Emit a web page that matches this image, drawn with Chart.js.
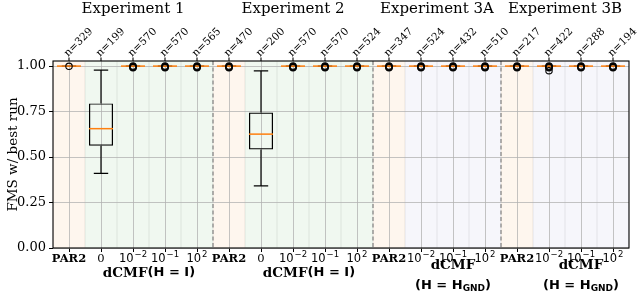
<!DOCTYPE html>
<html>
<head>
<meta charset="utf-8">
<script src="https://cdn.jsdelivr.net/npm/chart.js@4.4.0/dist/chart.umd.min.js"></script>
<style>
  html, body { margin: 0; padding: 0; background: #fff; }
  #wrap { width: 640px; height: 297px; position: relative; }
</style>
</head>
<body>
<div id="wrap"><canvas id="myChart"></canvas></div>
<script>
// ---- data ----
const categories = ['PAR2','0','10^-2','10^-1','10^2', 'PAR2','0','10^-2','10^-1','10^2', 'PAR2','10^-2','10^-1','10^2', 'PAR2','10^-2','10^-1','10^2'];
const kinds = ['par','id','id','id','id', 'par','id','id','id','id', 'par','gnd','gnd','gnd', 'par','gnd','gnd','gnd'];
const counts = [329,199,570,570,565, 470,200,570,570,524, 347,524,432,510, 217,422,288,194];

const whiskLow  = [1,0.41,1,1,1, 1,0.342,1,1,1, 1,1,1,1, 1,1,1,1];
const q1        = [1,0.562,1,1,1, 1,0.542,1,1,1, 1,1,1,1, 1,1,1,1];
const medians   = [1,0.656,1,1,1, 1,0.626,1,1,1, 1,1,1,1, 1,1,1,1];
const q3        = [1,0.795,1,1,1, 1,0.745,1,1,1, 1,1,1,1, 1,1,1,1];
const whiskHigh = [1,0.978,1,1,1, 1,0.974,1,1,1, 1,1,1,1, 1,1,1,1];
const many = [1,0.997,0.994,0.991];
const fliers = [
  [0.999], [], many, many, many,
  many, [], many, many, many,
  many, many, many, many,
  many, many.concat([0.975]), many, many
];

const groupTitles = ['Experiment 1','Experiment 2','Experiment 3A','Experiment 3B'];
const groupSizes = [5,5,4,4];
const methodNames = ['dCMF(H = I)','dCMF(H = I)','dCMF\n(H = H_GND)','dCMF\n(H = H_GND)'];
const yTicks = [0, 0.25, 0.5, 0.75, 1.0];

const bandColors = { par: 'rgb(254,246,238)', id: 'rgb(240,248,240)', gnd: 'rgb(246,246,251)' };
const serif = '"DejaVu Serif", serif';
const sans = '"DejaVu Sans", sans-serif';

// one point dataset per flier "layer" so each category keeps its own index
let maxFliers = Math.max(...fliers.map(f => f.length));
let flierSets = [];
for (let k = 0; k < maxFliers; k++) {
  flierSets.push({
    type: 'line',
    label: 'fliers' + k,
    data: fliers.map(f => (f[k] === undefined ? null : f[k])),
    showLine: false,
    pointStyle: 'circle',
    pointRadius: 3.2,
    pointBorderWidth: 1.1,
    pointBorderColor: '#000',
    pointBackgroundColor: 'rgba(0,0,0,0)',
    order: 1
  });
}

// draws a tick label like "10^-2" with a raised exponent, or plain text
let drawTickLabel = (ctx, label, cx, y) => {
  let m = label.match(/^(\d+)\^(.+)$/);
  if (!m) {
    ctx.font = (label === 'PAR2' ? 'bold ' : '') + '11.5px ' + serif;
    ctx.textAlign = 'center';
    ctx.fillText(label, cx, y);
    return;
  }
  let base = m[1], sup = m[2].replace('-', '\u2212');
  ctx.font = '11.5px ' + sans;
  let wb = ctx.measureText(base).width;
  ctx.font = '8.5px ' + sans;
  let ws = ctx.measureText(sup).width;
  let x = cx - (wb + ws + 1) / 2;
  ctx.textAlign = 'left';
  ctx.font = '11.5px ' + sans;
  ctx.fillText(base, x, y);
  ctx.font = '8.5px ' + sans;
  ctx.fillText(sup, x + wb + 1, y - 4);
  ctx.textAlign = 'center';
};

let boxPlugin = {
  id: 'boxExtras',
  beforeDraw(chart) {
    let ctx = chart.ctx, xs = chart.scales.x, area = chart.chartArea;
    let step = xs.getPixelForValue(1) - xs.getPixelForValue(0);
    ctx.save();
    kinds.forEach((k, i) => {
      let cx = xs.getPixelForValue(i);
      ctx.fillStyle = bandColors[k];
      ctx.fillRect(cx - step / 2, area.top, step, area.bottom - area.top);
      ctx.strokeStyle = 'rgba(0,0,0,0.04)';
      ctx.lineWidth = 1;
      ctx.strokeRect(cx - step / 2 + 0.5, area.top, step - 1, area.bottom - area.top);
    });
    ctx.restore();
  },
  afterDatasetDraw(chart, args) {
    if (args.index !== 0) return;
    let ctx = chart.ctx, xs = chart.scales.x, ys = chart.scales.y;
    let step = xs.getPixelForValue(1) - xs.getPixelForValue(0);
    let boxW = step * 0.75;
    ctx.save();
    categories.forEach((c, i) => {
      let cx = xs.getPixelForValue(i);
      ctx.strokeStyle = '#000';
      ctx.lineWidth = 1.2;
      ctx.beginPath();
      ctx.moveTo(cx, ys.getPixelForValue(q3[i]));
      ctx.lineTo(cx, ys.getPixelForValue(whiskHigh[i]));
      ctx.moveTo(cx, ys.getPixelForValue(q1[i]));
      ctx.lineTo(cx, ys.getPixelForValue(whiskLow[i]));
      ctx.moveTo(cx - boxW * 0.3, ys.getPixelForValue(whiskHigh[i]));
      ctx.lineTo(cx + boxW * 0.3, ys.getPixelForValue(whiskHigh[i]));
      ctx.moveTo(cx - boxW * 0.3, ys.getPixelForValue(whiskLow[i]));
      ctx.lineTo(cx + boxW * 0.3, ys.getPixelForValue(whiskLow[i]));
      ctx.stroke();
      ctx.strokeStyle = '#ff7f0e';
      ctx.lineWidth = 1.5;
      ctx.beginPath();
      ctx.moveTo(cx - boxW / 2, ys.getPixelForValue(medians[i]));
      ctx.lineTo(cx + boxW / 2, ys.getPixelForValue(medians[i]));
      ctx.stroke();
    });
    ctx.restore();
  },
  afterDraw(chart) {
    let ctx = chart.ctx, xs = chart.scales.x, area = chart.chartArea;
    let step = xs.getPixelForValue(1) - xs.getPixelForValue(0);
    ctx.save();
    // group dividers
    ctx.strokeStyle = '#808080';
    ctx.lineWidth = 1.2;
    ctx.setLineDash([4, 2.5]);
    let start = 0;
    groupSizes.slice(0, -1).forEach(n => {
      start += n;
      let x = xs.getPixelForValue(start) - step / 2;
      ctx.beginPath();
      ctx.moveTo(x, area.top);
      ctx.lineTo(x, area.bottom);
      ctx.stroke();
    });
    ctx.setLineDash([]);
    // frame
    ctx.strokeStyle = '#000';
    ctx.lineWidth = 1.1;
    ctx.strokeRect(area.left, area.top, area.right - area.left, area.bottom - area.top);
    ctx.fillStyle = '#000';
    // bottom tick labels
    ctx.textBaseline = 'middle';
    categories.forEach((c, i) => drawTickLabel(ctx, c, xs.getPixelForValue(i), 259));
    // top ticks and n= labels
    ctx.font = '10.5px ' + serif;
    ctx.textAlign = 'left';
    ctx.textBaseline = 'alphabetic';
    counts.forEach((n, i) => {
      let cx = xs.getPixelForValue(i);
      ctx.beginPath();
      ctx.moveTo(cx, area.top);
      ctx.lineTo(cx, area.top - 3.5);
      ctx.stroke();
      ctx.save();
      ctx.translate(cx - 1, area.top - 4);
      ctx.rotate(-Math.PI / 4);
      ctx.fillText('n=' + n, 0, 0);
      ctx.restore();
    });
    // group titles and method labels
    ctx.textAlign = 'center';
    ctx.textBaseline = 'middle';
    start = 0;
    groupSizes.forEach((n, g) => {
      let x0 = xs.getPixelForValue(start) - step / 2;
      let x1 = xs.getPixelForValue(start + n - 1) + step / 2;
      ctx.font = '15px ' + serif;
      ctx.fillText(groupTitles[g], (x0 + x1) / 2, 9);
      let mx = (x0 + step + x1) / 2;
      let lines = methodNames[g].split('\n');
      if (lines.length === 1) {
        drawMixed(ctx, lines[0], mx, 273);
      } else {
        ctx.font = 'bold 13.5px ' + serif;
        ctx.textAlign = 'center';
        ctx.fillText(lines[0], mx, 265);
        drawMixed(ctx, lines[1], mx, 286);
      }
      start += n;
    });
    ctx.restore();
  }
};

// "dCMF" in bold serif, the math part "(H = ...)" in bold sans, "_X" as subscript
let drawMixed = (ctx, text, cx, y) => {
  let k = text.indexOf('(');
  let head = text.slice(0, k), math = text.slice(k);
  let parts = [];
  if (head) parts.push({ t: head, f: 'bold 13.5px ' + serif, dy: 0 });
  let m = math.match(/^(.*)_([A-Z]+)(\).*)$/);
  if (m) {
    parts.push({ t: m[1], f: 'bold 13px ' + sans, dy: 0 });
    parts.push({ t: m[2], f: 'bold 9px ' + sans, dy: 3 });
    parts.push({ t: m[3], f: 'bold 13px ' + sans, dy: 0 });
  } else {
    parts.push({ t: math, f: 'bold 13px ' + sans, dy: 0 });
  }
  let total = 0;
  parts.forEach(p => { ctx.font = p.f; p.w = ctx.measureText(p.t).width; total += p.w; });
  let x = cx - total / 2;
  ctx.textAlign = 'left';
  parts.forEach(p => { ctx.font = p.f; ctx.fillText(p.t, x, y + p.dy); x += p.w; });
  ctx.textAlign = 'center';
};

let ctx = document.getElementById('myChart').getContext('2d');
let chart1 = new Chart(ctx, {
  type: 'bar',
  data: {
    labels: categories,
    datasets: [{
      type: 'bar',
      label: 'box',
      data: categories.map((c, i) => [q1[i], q3[i]]),
      backgroundColor: 'rgba(0,0,0,0)',
      borderColor: '#000',
      borderWidth: 1.2,
      borderSkipped: false,
      barPercentage: 0.75,
      categoryPercentage: 1,
      order: 2
    }, ...flierSets]
  },
  options: {
    responsive: true,
    maintainAspectRatio: false,
    animation: false,
    layout: { padding: { top: 61, right: 11, left: 0, bottom: 0 } },
    plugins: { legend: { display: false }, tooltip: { enabled: false } },
    scales: {
      x: {
        type: 'category',
        offset: true,
        afterFit: (s) => { s.height = 49; },
        grid: { offset: false, color: 'rgba(176,176,176,0.75)', lineWidth: 1, tickColor: '#000', tickLength: 4 },
        border: { display: false },
        ticks: { display: false, autoSkip: false }
      },
      y: {
        min: 0,
        max: 1.028,
        afterFit: (s) => { s.width = 53; },
        afterBuildTicks: (s) => { s.ticks = yTicks.map(v => ({ value: v })); },
        grid: { color: 'rgba(176,176,176,0.75)', lineWidth: 1, tickColor: '#000', tickLength: 4 },
        border: { display: false },
        ticks: {
          color: '#000',
          padding: 3,
          font: { family: serif, size: 13 },
          callback: (v) => v.toFixed(2)
        },
        title: {
          display: true,
          text: 'FMS w/ best run',
          color: '#000',
          font: { family: serif, size: 13.5 },
          padding: { top: 5, bottom: 0 }
        }
      }
    }
  },
  plugins: [boxPlugin]
});
</script>
</body>
</html>
